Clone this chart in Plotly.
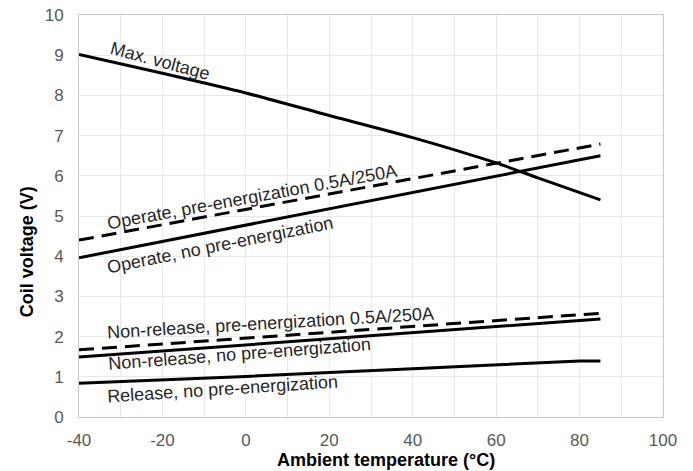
import plotly.graph_objects as go

temp_max = [-40, -20, 0, 20, 40, 60, 70, 85]
v_max = [9.02, 8.55, 8.06, 7.5, 6.95, 6.32, 5.95, 5.4]

temp_lin = [-40, 85]
v_operate_pre = [4.4, 6.79]
v_operate = [3.96, 6.5]
v_nonrel_pre = [1.67, 2.58]
v_nonrel = [1.49, 2.44]

temp_rel = [-40, 0, 40, 80, 85]
v_release = [0.84, 1.01, 1.2, 1.39, 1.39]

labels = [
    ("Max. voltage", -20.6, 8.85, 15),
    ("Operate, pre-energization 0.5A/250A", 1.5, 5.47, -10.4),
    ("Operate, no pre-energization", -6.2, 4.28, -11.3),
    ("Non-release, pre-energization 0.5A/250A", 6.0, 2.34, -3.3),
    ("Non-release, no pre-energization", -1.6, 1.57, -4.3),
    ("Release, no pre-energization", -5.5, 0.70, -3.7),
]

FONT = "Liberation Sans, Arial"
fig = go.Figure()
line = dict(color="black", width=3)
dash = dict(color="black", width=3, dash="15px,8px")
fig.add_trace(go.Scatter(x=temp_max, y=v_max, mode="lines", line=dict(line, shape="spline", smoothing=0.6)))
fig.add_trace(go.Scatter(x=temp_lin, y=v_operate_pre, mode="lines", line=dash))
fig.add_trace(go.Scatter(x=temp_lin, y=v_operate, mode="lines", line=line))
fig.add_trace(go.Scatter(x=temp_lin, y=v_nonrel_pre, mode="lines", line=dash))
fig.add_trace(go.Scatter(x=temp_lin, y=v_nonrel, mode="lines", line=line))
fig.add_trace(go.Scatter(x=temp_rel, y=v_release, mode="lines", line=dict(line, shape="spline", smoothing=0.6)))

for text, x, y, ang in labels:
    fig.add_annotation(x=x, y=y, text=text, textangle=ang, showarrow=False,
                       font=dict(family=FONT, size=18, color="#262626"))

# axis titles (placed off-centre as in the reference)
fig.add_annotation(xref="paper", yref="paper", x=0.526, y=-0.107, text="<b>Ambient temperature (°C)</b>",
                   showarrow=False, xanchor="center", yanchor="middle",
                   font=dict(family=FONT, size=18, color="black"))
fig.add_annotation(xref="paper", yref="paper", x=-0.089, y=0.41, text="<b>Coil voltage (V)</b>",
                   textangle=-90, showarrow=False, xanchor="center", yanchor="middle",
                   font=dict(family=FONT, size=18, color="black"))

fig.update_layout(
    width=693, height=471,
    margin=dict(l=71, r=38, t=7, b=62),
    paper_bgcolor="white", plot_bgcolor="white",
    showlegend=False,
    font=dict(family=FONT, size=17, color="#595959"),
)
fig.update_xaxes(range=[-40, 100], tickvals=[-40, -20, 0, 20, 40, 60, 80, 100],
                 ticktext=["-40", "-20", "0", "20", "40", "60", "80", "100"],
                 automargin=False, showgrid=False, zeroline=False, ticklabeloverflow="allow",
                 minor=dict(dtick=10, showgrid=True, gridcolor="#e8e8e8", gridwidth=1, tick0=-40),
                 showline=True, linecolor="#c8c8c8", linewidth=1, mirror=True,
                 ticks="", ticklabelstandoff=8, tickfont=dict(size=17, color="#595959"))
fig.update_yaxes(range=[0, 10], dtick=1, showgrid=True, gridcolor="#e8e8e8", zeroline=False,
                 automargin=False, ticklabeloverflow="allow",
                 showline=True, linecolor="#c8c8c8", linewidth=1, mirror=True,
                 ticks="", ticklabelstandoff=11, tickfont=dict(size=17, color="#595959"))

fig.write_html("out.html")
